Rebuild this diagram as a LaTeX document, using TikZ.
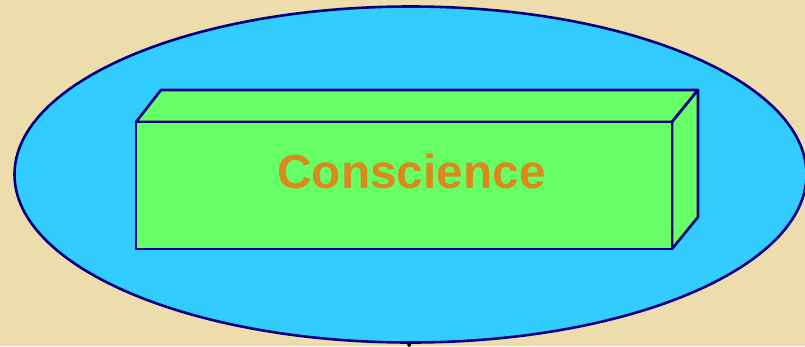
\documentclass[tikz,border=0pt]{standalone}
\usepackage{fontspec}
\setmainfont{Liberation Sans}
\usetikzlibrary{shapes.geometric}
\definecolor{parch}{RGB}{238,221,172}
\definecolor{skyc}{RGB}{51,204,255}
\definecolor{navyb}{RGB}{0,0,128}
\definecolor{boxg}{RGB}{102,255,102}
\definecolor{txto}{RGB}{218,138,26}
\tikzset{
  outline/.style={draw=navyb, line width=2.6pt, line join=round},
  face/.style={outline, fill=boxg},
}
\begin{document}
\begin{tikzpicture}[x=1pt,y=-1pt]
\fill[parch] (0,0) rectangle (805,346);
\useasboundingbox (0,0) rectangle (805,346);
% ellipse
\node[ellipse, outline, fill=skyc, minimum width=792pt, minimum height=336pt, inner sep=0pt] (oval) at (410.5,174.5) {};
% box faces
\filldraw[face] (136,122) -- (161,90) -- (698,90) -- (672,122) -- cycle;
\filldraw[face] (672,122) -- (698,90) -- (698,217) -- (672,249) -- cycle;
\node[face, minimum width=536pt, minimum height=127pt, inner sep=0pt] (box) at (404,185.5) {};
\node[font=\fontsize{47.8pt}{50pt}\selectfont\bfseries, text=txto, inner sep=0pt] (label) at (411.5,171) {Conscience};
% stub of connector at bottom
\coordinate (stub) at (408,346);
\draw[black, line width=3pt] (oval.south) -- (stub);
\end{tikzpicture}
\end{document}
